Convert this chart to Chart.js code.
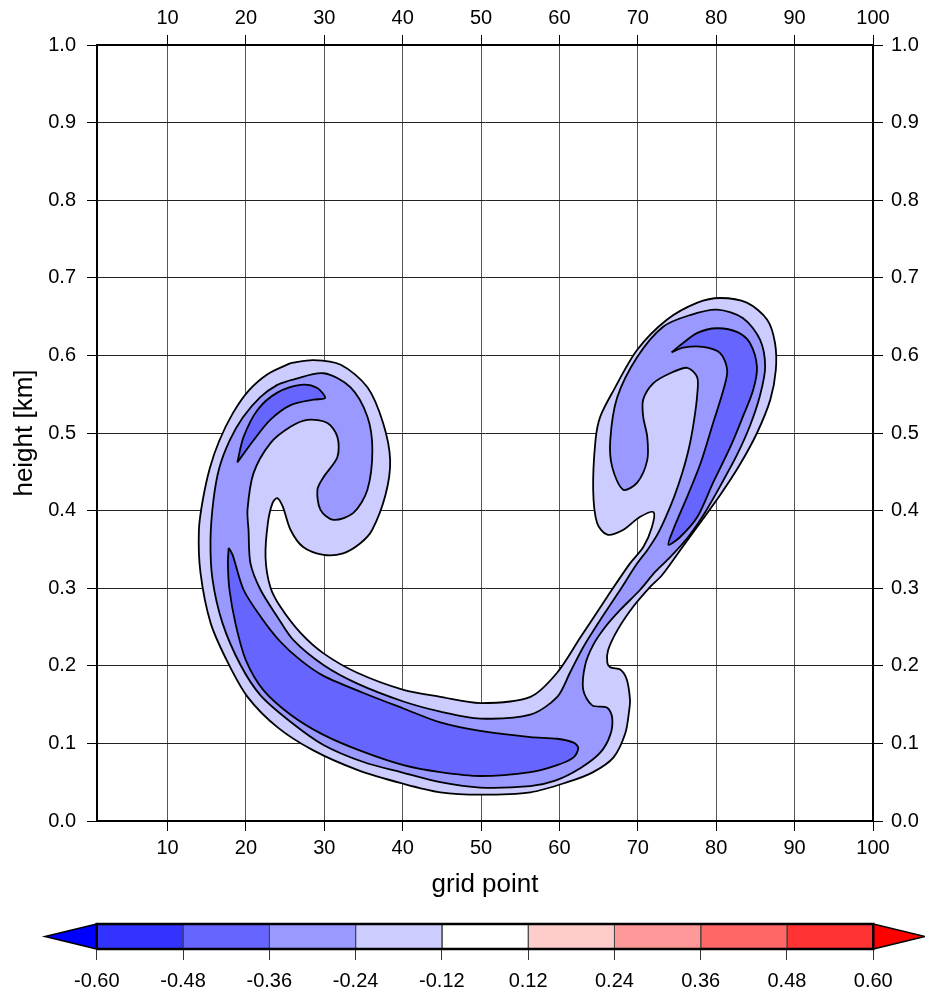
<!DOCTYPE html>
<html>
<head>
<meta charset="utf-8">
<script src="https://cdn.jsdelivr.net/npm/chart.js@4.4.1/dist/chart.umd.min.js"></script>
<style>
  body { margin: 0; background: #fff; }
  #main { position: absolute; left: 0; top: 0; }
  #bar { position: absolute; left: 0; top: 910px; }
</style>
</head>
<body>
<canvas id="main" width="925" height="910"></canvas>
<canvas id="bar" width="925" height="82"></canvas>
<script>
// axis ticks
const xTicks = [10, 20, 30, 40, 50, 60, 70, 80, 90, 100];
const yTicks = [0, 0.1, 0.2, 0.3, 0.4, 0.5, 0.6, 0.7, 0.8, 0.9, 1.0];

// contour levels and shading
const levels = [-0.60, -0.48, -0.36, -0.24, -0.12, 0.12, 0.24, 0.36, 0.48, 0.60];
const bandColors = ["#3333ff", "#6666ff", "#9999ff", "#ccccff", "#ffffff",
                    "#ffcccc", "#ff9999", "#ff6666", "#ff3333"];
const underColor = "#0000ff";
const overColor = "#ff0000";

// contour -0.12 ([grid point, km])
const contourM012 = [
  [25.7,0.590],[28.6,0.594],[32.1,0.588],[35.5,0.559],[37.5,0.513],[38.4,0.465],[37.8,0.420],
  [36.1,0.375],[34.6,0.358],[32.4,0.345],[29.9,0.343],[27.3,0.353],[25.7,0.375],[24.7,0.405],
  [24.0,0.416],[23.4,0.410],[22.8,0.384],[22.5,0.340],[23.1,0.302],[24.4,0.276],[27.0,0.242],
  [29.9,0.216],[34.2,0.191],[40.1,0.169],[44.8,0.160],[49.9,0.152],[56.3,0.160],[59.7,0.191],
  [62.7,0.237],[66.1,0.289],[69.0,0.332],[70.7,0.353],[71.8,0.379],[72.0,0.398],[70.3,0.392],
  [68.1,0.375],[66.1,0.369],[64.8,0.384],[64.3,0.427],[64.6,0.491],[65.2,0.521],[66.9,0.555],
  [69.9,0.607],[73.7,0.646],[77.6,0.668],[80.5,0.674],[83.9,0.668],[86.5,0.646],[87.5,0.616],
  [87.6,0.581],[86.9,0.543],[85.2,0.500],[83.0,0.459],[80.5,0.420],[78.0,0.385],[75.4,0.349],
  [73.1,0.317],[71.6,0.302],[69.4,0.276],[67.4,0.246],[66.2,0.220],[66.1,0.204],[66.5,0.198],
  [67.8,0.195],[68.6,0.182],[69.0,0.156],[68.9,0.143],[68.4,0.113],[66.9,0.082],[64.3,0.063],
  [61.0,0.050],[56.3,0.037],[49.9,0.034],[44.8,0.037],[40.1,0.048],[34.2,0.066],[28.6,0.091],
  [24.0,0.121],[20.2,0.160],[17.7,0.204],[15.5,0.255],[14.2,0.320],[14.0,0.375],[14.5,0.414],
  [15.4,0.455],[16.6,0.490],[18.3,0.525],[20.3,0.554],[22.8,0.576],[25.7,0.590]
];

// contour -0.24
const contourM024 = [
  [25.68,0.568],[29.89,0.577],[33.32,0.559],[35.50,0.521],[36.13,0.478],[35.50,0.427],[33.71,0.397],
  [31.16,0.388],[29.51,0.401],[29.12,0.427],[29.89,0.443],[31.67,0.469],[31.67,0.495],[30.40,0.513],
  [27.85,0.517],[25.68,0.508],[23.13,0.487],[20.96,0.448],[20.20,0.401],[20.33,0.375],[20.58,0.332],
  [21.86,0.298],[24.02,0.263],[26.06,0.233],[29.89,0.201],[34.22,0.177],[40.09,0.154],[44.80,0.141],
  [49.90,0.132],[56.28,0.137],[59.72,0.160],[61.38,0.192],[63.03,0.224],[65.20,0.259],[67.50,0.294],
  [69.92,0.332],[71.20,0.349],[72.48,0.369],[73.49,0.390],[74.64,0.418],[75.65,0.448],[76.55,0.482],
  [77.18,0.517],[77.57,0.549],[77.57,0.572],[76.31,0.584],[74.12,0.577],[71.96,0.564],[70.68,0.543],
  [70.68,0.521],[71.20,0.495],[71.20,0.465],[69.92,0.436],[68.13,0.427],[66.73,0.456],[66.48,0.491],
  [67.37,0.546],[69.92,0.598],[73.23,0.637],[76.67,0.652],[80.12,0.659],[83.43,0.648],[85.60,0.620],
  [86.24,0.585],[85.60,0.549],[84.33,0.510],[82.66,0.472],[80.75,0.436],[78.59,0.398],[76.42,0.366],
  [74.12,0.340],[72.20,0.321],[70.30,0.298],[67.75,0.272],[65.84,0.250],[64.31,0.227],[63.28,0.201],
  [63.03,0.169],[64.18,0.149],[66.09,0.146],[66.73,0.133],[66.48,0.111],[65.20,0.088],[62.65,0.068],
  [59.46,0.052],[56.28,0.045],[49.90,0.043],[44.80,0.050],[40.09,0.062],[34.99,0.076],[29.89,0.098],
  [25.68,0.128],[21.86,0.162],[19.31,0.201],[17.01,0.255],[15.74,0.311],[15.48,0.362],[15.86,0.414],
  [16.60,0.455],[17.90,0.490],[19.60,0.520],[21.80,0.546],[24.00,0.562],[25.68,0.568]
];

// contour -0.36, three pieces
const contourM036Left = [
  [18.9,0.462],[19.7,0.495],[21.5,0.530],[24.0,0.552],[27.0,0.562],[29.1,0.558],[30.1,0.545],
  [28.6,0.543],[25.7,0.536],[23.1,0.517],[21.0,0.491],[18.9,0.462]
];
const contourM036Bottom = [
  [17.8,0.352],[18.3,0.343],[19.7,0.298],[21.9,0.263],[24.4,0.231],[27.0,0.207],[29.9,0.187],
  [35.0,0.165],[40.1,0.145],[44.8,0.127],[49.9,0.116],[56.3,0.108],[59.7,0.106],[61.8,0.101],
  [62.4,0.094],[61.8,0.082],[59.7,0.072],[56.3,0.063],[49.9,0.058],[44.8,0.063],[40.1,0.072],
  [35.0,0.089],[29.9,0.111],[25.7,0.137],[22.2,0.169],[20.0,0.207],[18.7,0.253],[17.9,0.298],
  [17.7,0.332],[17.8,0.352]
];
const contourM036Right = [
  [74.3,0.604],[75.4,0.613],[77.6,0.629],[80.1,0.635],[82.7,0.630],[84.3,0.616],[85.2,0.585],
  [84.7,0.555],[83.4,0.521],[81.8,0.482],[79.6,0.436],[77.6,0.392],[75.4,0.366],[73.9,0.356],
  [74.5,0.375],[76.3,0.418],[78.0,0.461],[79.6,0.513],[80.9,0.555],[81.4,0.581],[80.5,0.603],
  [78.3,0.611],[75.8,0.610],[74.3,0.604]
];

Chart.defaults.font.family = '"Liberation Sans", Arial, Helvetica, sans-serif';
Chart.defaults.color = "#000";

function shape(points, color, order, opts) {
  return Object.assign({
    data: points.map(p => ({ x: p[0], y: p[1] })),
    showLine: true,
    fill: "shape",
    backgroundColor: color,
    borderColor: "#000",
    borderWidth: 1.8,
    pointRadius: 0,
    tension: 0.3,
    order: order
  }, opts || {});
}

function fillColor(level) {
  return bandColors[levels.indexOf(level) - 1];
}

const tickFont = { size: 20 };

function xAxis(pos, extra) {
  return Object.assign({
    type: "linear", position: pos, min: 1, max: 100, z: 1,
    afterBuildTicks: s => { s.ticks = xTicks.map(v => ({ value: v })); },
    ticks: { font: tickFont, color: "#000", padding: 5, maxRotation: 0, autoSkip: false },
    grid: { color: "#555", tickColor: "#000", tickLength: 10, lineWidth: 1 },
    border: { color: "#000", width: 2 }
  }, extra);
}

function yAxis(pos, extra) {
  return Object.assign({
    type: "linear", position: pos, min: 0, max: 1, z: 1,
    afterBuildTicks: s => { s.ticks = yTicks.map(v => ({ value: v })); },
    ticks: { font: tickFont, color: "#000", padding: pos === "left" ? 11 : 8,
             callback: v => v.toFixed(1) },
    grid: { color: "#222", tickColor: "#000", tickLength: 10, lineWidth: 1 },
    border: { color: "#000", width: 2 }
  }, extra);
}

new Chart(document.getElementById("main"), {
  type: "scatter",
  data: {
    datasets: [
      shape(contourM036Left, fillColor(-0.36), 1),
      shape(contourM036Bottom, fillColor(-0.36), 1),
      shape(contourM036Right, fillColor(-0.36), 1),
      shape(contourM024, fillColor(-0.24), 2),
      shape(contourM012, fillColor(-0.12), 3)
    ]
  },
  options: {
    responsive: false,
    animation: false,
    events: [],
    layout: { padding: 0 },
    plugins: { legend: { display: false }, tooltip: { enabled: false } },
    scales: {
      x: xAxis("bottom", {
        afterFit: s => { s.height = 89; },
        title: { display: true, text: "grid point", font: { size: 26 }, color: "#000",
                 padding: { top: 0, bottom: 10 } }
      }),
      xTop: xAxis("top", {
        axis: "x",
        afterFit: s => { s.height = 45; },
        grid: { drawOnChartArea: false, tickColor: "#000", tickLength: 10 }
      }),
      y: yAxis("left", {
        afterFit: s => { s.width = 97; },
        title: { display: true, text: "height [km]", font: { size: 26 }, color: "#000",
                 padding: { top: 9, bottom: 0 } }
      }),
      yRight: yAxis("right", {
        axis: "y",
        afterFit: s => { s.width = 52; },
        grid: { drawOnChartArea: false, tickColor: "#000", tickLength: 10 }
      })
    }
  }
});

// colour bar: one equal-width box per interval, placed by level index
const barSets = [];
for (let i = 0; i < bandColors.length; i++) {
  barSets.push(shape([[i, 0], [i + 1, 0], [i + 1, 1], [i, 1], [i, 0]], bandColors[i], 2,
    { tension: 0, borderWidth: 1, borderColor: "#444", clip: false }));
}
const last = levels.length - 1;
barSets.push(shape([[0, 1], [-0.6, 0.5], [0, 0], [0, 1]], underColor, 1,
  { tension: 0, borderWidth: 1.5, clip: false }));
barSets.push(shape([[last, 1], [last + 0.6, 0.5], [last, 0], [last, 1]], overColor, 1,
  { tension: 0, borderWidth: 1.5, clip: false }));
barSets.push(shape([[0, 0], [last, 0], [last, 1], [0, 1], [0, 0]], "rgba(0,0,0,0)", 0,
  { tension: 0, borderWidth: 2.5, fill: false, clip: false }));

new Chart(document.getElementById("bar"), {
  type: "scatter",
  data: { datasets: barSets },
  options: {
    responsive: false,
    animation: false,
    events: [],
    layout: { padding: { left: 45, right: 0, top: 14, bottom: 0 } },
    plugins: { legend: { display: false }, tooltip: { enabled: false } },
    scales: {
      x: {
        type: "linear", min: -0.6, max: last + 0.6,
        afterBuildTicks: s => { s.ticks = levels.map((v, i) => ({ value: i })); },
        afterFit: s => { s.height = 43; },
        ticks: { font: tickFont, color: "#000", padding: 9, maxRotation: 0, autoSkip: false,
                 callback: v => levels[Math.round(v)].toFixed(2) },
        grid: { drawOnChartArea: false, tickColor: "#333", tickLength: 11 },
        border: { display: false }
      },
      y: { display: false, min: 0, max: 1 }
    }
  }
});
</script>
</body>
</html>
